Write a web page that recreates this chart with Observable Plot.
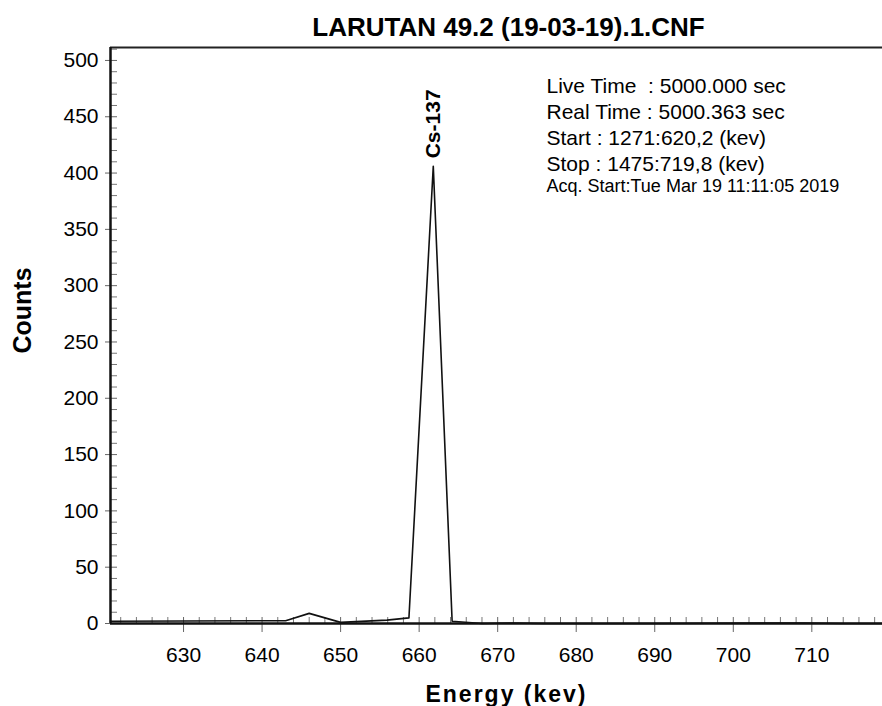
<!DOCTYPE html>
<html>
<head>
<meta charset="utf-8">
<script src="https://cdn.jsdelivr.net/npm/d3@7"></script>
<script src="https://cdn.jsdelivr.net/npm/@observablehq/plot@0.6"></script>
<style>
  html, body { margin: 0; padding: 0; background: #fff; }
  #chart { width: 882px; height: 706px; }
</style>
</head>
<body>
<div id="chart"></div>
<script>
// Gamma spectrum of sample LARUTAN 49.2, region 620.2–719.8 keV
const energy = [620.7, 643.0, 646.0, 650.0, 655.9, 658.7, 661.8, 664.2, 668.0, 672.0, 676.0, 690.0, 705.0, 709.0, 714.0, 719.0];
const counts = [2, 2.5, 9, 1, 3, 5, 406, 2, 0, 0.5, 0, 0, 0.5, 0.5, 0, 0];

const xTicks = [630, 640, 650, 660, 670, 680, 690, 700, 710];
const yTicks = [0, 50, 100, 150, 200, 250, 300, 350, 400, 450, 500];
const xMinor = d3.range(622, 719, 2).filter(v => v % 10 !== 0);
const yMinor = d3.range(10, 511, 10).filter(v => v % 50 !== 0);

const xDomain = [620.7, 719.0];
const yDomain = [0, 511.5];

const peakName = "Cs-137";
const infoLines = [
  "Live Time\u00a0 : 5000.000 sec",
  "Real Time : 5000.363 sec",
  "Start : 1271:620,2 (kev)",
  "Stop : 1475:719,8 (kev)"
];
const acqLine = "Acq. Start:Tue Mar 19 11:11:05 2019";
const title = "LARUTAN 49.2 (19-03-19).1.CNF";
const xLabel = "Energy (kev)";
const yLabel = "Counts";

const spectrum = energy.map((e, i) => ({energy: e, counts: counts[i]}));
const peak = spectrum.reduce((a, b) => (b.counts > a.counts ? b : a));

const W = 882, H = 706, ML = 110, MT = 47, MB = 83;
const sans = "'Liberation Sans', Arial, sans-serif";

const chart = Plot.plot({
  width: W,
  height: H,
  marginTop: MT,
  marginBottom: MB,
  marginLeft: ML,
  marginRight: 0,
  style: {fontFamily: sans, background: "#fff", color: "#000", overflow: "visible"},
  x: {domain: xDomain},
  y: {domain: yDomain},
  marks: [
    // y ticks: minor inside, major crossing the axis
    Plot.ruleY(yMinor, {insetRight: W - ML - 7, stroke: "#777", strokeWidth: 1}),
    Plot.ruleY(yTicks, {insetLeft: -5, insetRight: W - ML - 7, stroke: "#666", strokeWidth: 1}),
    // x ticks: minor inside, major crossing the axis
    Plot.ruleX(xMinor, {insetTop: 570, stroke: "#777", strokeWidth: 1}),
    Plot.ruleX(xTicks, {insetTop: 570, insetBottom: -9, stroke: "#666", strokeWidth: 1}),
    // frame lines
    Plot.ruleY([yDomain[1]], {stroke: "#222", strokeWidth: 2}),
    Plot.ruleX([xDomain[0]], {stroke: "#111", strokeWidth: 2.5}),
    Plot.ruleY([0], {stroke: "#111", strokeWidth: 2.5}),
    // spectrum
    Plot.line(spectrum, {x: "energy", y: "counts", stroke: "#111", strokeWidth: 1.6}),
    // axes
    Plot.axisY(yTicks, {tickSize: 0, tickPadding: 12, fontSize: 21, label: null}),
    Plot.axisX(xTicks, {tickSize: 0, tickPadding: 24, fontSize: 21, label: null}),
    // peak label
    Plot.text([peak], {
      x: "energy", y: "counts", text: () => peakName,
      rotate: -90, textAnchor: "start", lineAnchor: "middle", dy: -8,
      fontWeight: "bold", fontSize: 21
    }),
    // acquisition info
    Plot.text([infoLines.join("\n")], {
      frameAnchor: "top-left", textAnchor: "start", lineAnchor: "top",
      dx: 436, dy: 27, fontSize: 21, lineHeight: 1.24
    }),
    Plot.text([acqLine], {
      frameAnchor: "top-left", textAnchor: "start", lineAnchor: "bottom",
      dx: 436, dy: 144, fontSize: 18
    }),
    // title and axis titles
    Plot.text([title], {
      frameAnchor: "top", textAnchor: "middle", lineAnchor: "bottom", dx: 12, dy: -12,
      fontWeight: "bold", fontSize: 26
    }),
    Plot.text([xLabel], {
      frameAnchor: "bottom", textAnchor: "middle", lineAnchor: "bottom", dx: 10, dy: 78,
      fontWeight: "bold", fontSize: 23
    }),
    Plot.text([yLabel], {
      frameAnchor: "left", textAnchor: "middle", lineAnchor: "middle", rotate: -90, dx: -88, dy: -25,
      fontWeight: "bold", fontSize: 25
    })
  ]
});

// the x-axis title is set a little wider
d3.select(chart).selectAll("text")
  .filter(function () { return this.textContent === xLabel; })
  .attr("letter-spacing", 2);

document.getElementById("chart").appendChild(chart);
</script>
</body>
</html>
